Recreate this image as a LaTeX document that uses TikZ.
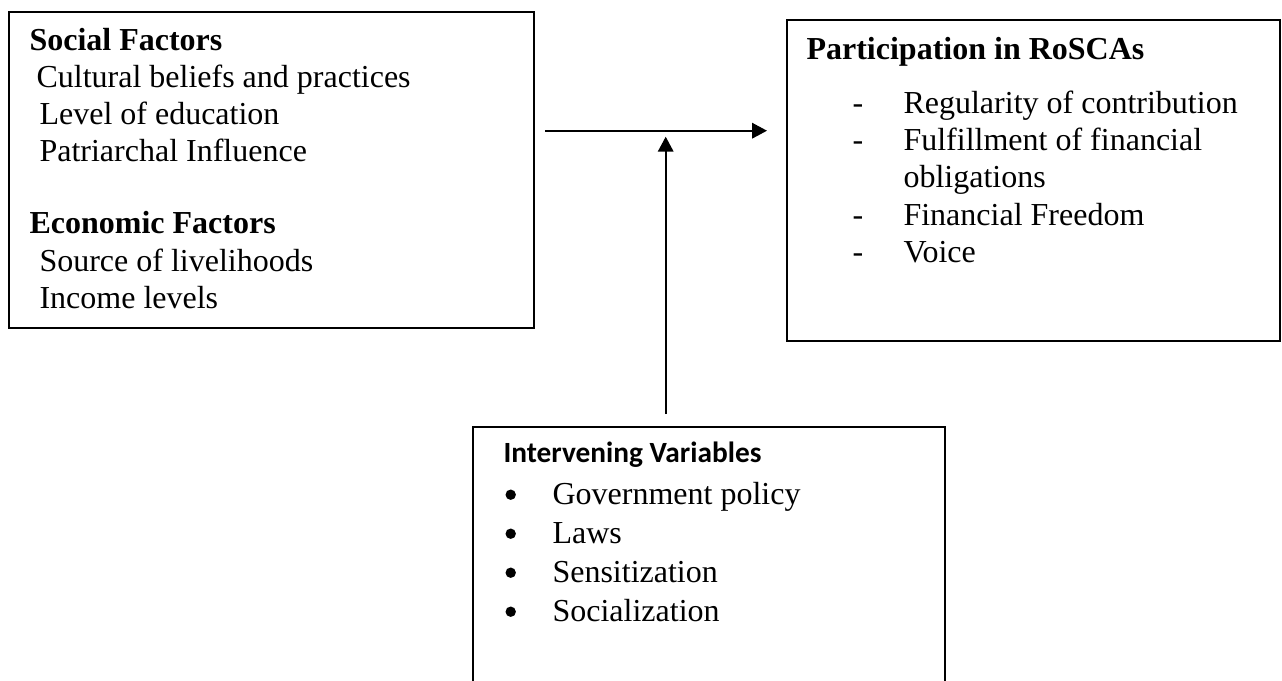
\documentclass[tikz,border=0pt]{standalone}
\usepackage{fontspec}
\setmainfont{Liberation Serif}
\newfontfamily\calibri{Carlito}
\usetikzlibrary{arrows.meta}

\begin{document}
\begin{tikzpicture}[x=0.375pt, y=-0.375pt,
  frame/.style={draw, line width=0.75pt, inner sep=0pt, anchor=north west},
  txt/.style={anchor=base west, inner sep=0pt, font=\fontsize{12}{14}\selectfont},
  head/.style={txt, font=\fontsize{12}{14}\selectfont\bfseries},
  sidehead/.style={anchor=base west, inner sep=0pt, font=\fontsize{11}{13}\selectfont\calibri\bfseries},
  itemsym/.style={anchor=base, inner sep=0pt, font=\fontsize{12}{14}\selectfont},
  dot/.style={circle, fill, inner sep=0pt, minimum size=3.9pt},
  arr/.style={line width=0.7pt, -{Triangle[length=5.6pt, width=5.8pt]}}]

\useasboundingbox (0,0) rectangle (1282,680);
\clip (0,0) rectangle (1282,680);
\fill[white] (0,0) rectangle (1282,680);

% boxes
\node[frame, minimum width={525*0.375pt}, minimum height={316*0.375pt}] (lbox) at (8,11) {};
\node[frame, minimum width={493*0.375pt}, minimum height={321*0.375pt}] (rbox) at (786,19) {};
\node[frame, minimum width={472*0.375pt}, minimum height={300*0.375pt}] (ibox) at (472,426) {};

% independent variables
\node[head] (soc) at (29,50.5) {Social Factors};
\node[txt] (s1) at (36,87.5) {Cultural beliefs and practices};
\node[txt] (s2) at (39,124.5) {Level of education};
\node[txt] (s3) at (39,161.5) {Patriarchal Influence};
\node[head] (eco) at (29,233.5) {Economic Factors};
\node[txt] (e1) at (39,271) {Source of livelihoods};
\node[txt] (e2) at (39,308) {Income levels};

% dependent variable
\node[head] (par) at (806,59) {Participation in RoSCAs};
\node[itemsym] (d1) at (858,113) {-};
\node[txt] (p1) at (903,113) {Regularity of contribution};
\node[itemsym] (d2) at (858,150) {-};
\node[txt] (p2) at (903,150) {Fulfillment of financial};
\node[txt] (p2b) at (903,187) {obligations};
\node[itemsym] (d3) at (858,225) {-};
\node[txt] (p3) at (903,225) {Financial Freedom};
\node[itemsym] (d4) at (858,262) {-};
\node[txt] (p4) at (903,262) {Voice};

% intervening variables
\node[sidehead] (ivh) at (503,462.5) {Intervening Variables};
\node[dot] (b1) at (510.7,494.7) {};
\node[txt] (i1) at (552,504) {Government policy};
\node[dot] (b2) at (510.7,533.7) {};
\node[txt] (i2) at (552,543) {Laws};
\node[dot] (b3) at (510.7,572.7) {};
\node[txt] (i3) at (552,582) {Sensitization};
\node[dot] (b4) at (510.7,611.7) {};
\node[txt] (i4) at (552,621) {Socialization};

% connectors
\coordinate (hstart) at (545,130.7);
\coordinate (hend) at (767,130.7);
\coordinate (vstart) at (665.7,414);
\coordinate (vend) at (665.7,136.7);
\draw[arr] (hstart) -- (hend);
\draw[arr] (vstart) -- (vend);
\end{tikzpicture}
\end{document}
